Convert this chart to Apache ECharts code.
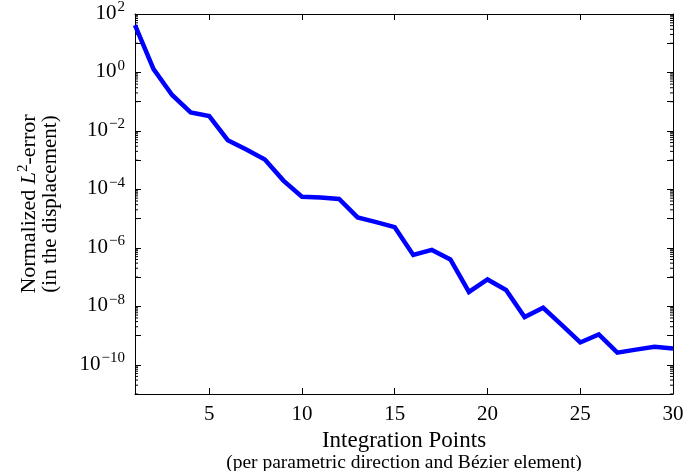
<!DOCTYPE html>
<html><head><meta charset="utf-8">
<script src="https://cdn.jsdelivr.net/npm/echarts@6/dist/echarts.min.js"></script>
<style>html,body{margin:0;padding:0;background:#fff}#c{width:683px;height:471px}</style>
</head><body><div id="c"></div><script>
// ---- data ----
const integrationPoints = [1,2,3,4,5,6,7,8,9,10,11,12,13,14,15,16,17,18,19,20,21,22,23,24,25,26,27,28,29,30];
const l2Errors = [42, 1.3, 0.17, 0.043, 0.032, 0.0048, 0.0023, 0.00105, 0.0002, 5.6e-5,
  5.3e-5, 4.7e-5, 1.1e-5, 7.6e-6, 5.1e-6, 5.7e-7, 8.5e-7, 4.0e-7, 3.1e-8, 8.3e-8,
  3.6e-8, 4.3e-9, 8.9e-9, 2.3e-9, 5.8e-10, 1.1e-9, 2.6e-10, 3.3e-10, 4.1e-10, 3.6e-10];
const xTickValues = [5, 10, 15, 20, 25, 30];
const yLabelExponents = [-10, -8, -6, -4, -2, 0, 2];
const minorDecadeExponents = [-11, -9, -7, -5, -3, -1, 1];
const minorMultipliers = [1, 2, 3, 4, 5, 6, 7, 8, 9];

const X_MIN = 1, X_MAX = 30, Y_MIN = 1e-11, Y_MAX = 100;
const FONT = '"Liberation Serif", "DejaVu Serif", serif';

const minorTickValues = [];
minorDecadeExponents.forEach(e => minorMultipliers.forEach(k => {
  const v = k * Math.pow(10, e);
  if (v >= Y_MIN && v <= Y_MAX) minorTickValues.push(v);
}));

const sup = s => String(s).replace('-', '\u2212');
function yLabel(v) {
  const e = Math.round(Math.log10(v));
  return yLabelExponents.indexOf(e) >= 0 ? '{b|10}{s|' + sup(e) + '}' : '';
}
const yRich = {
  b: {fontSize: 21, fontFamily: FONT, color: '#000', verticalAlign: 'bottom', lineHeight: 20},
  s: {fontSize: 15, fontFamily: FONT, color: '#000', verticalAlign: 'bottom', lineHeight: 15, padding: [0, 0, 9, 1]}
};

const chart = echarts.init(document.getElementById('c'), null, {renderer: 'canvas'});
const baseY = {
  type: 'log', logBase: 10, min: Y_MIN, max: Y_MAX, interval: 1,
  axisLine: {show: true, lineStyle: {color: '#000', width: 1}},
  axisTick: {show: true, inside: true, length: 6, lineStyle: {color: '#000', width: 1}},
  splitLine: {show: false}, minorTick: {show: false}
};
const baseX = {
  type: 'value', min: X_MIN, max: X_MAX,
  axisLine: {show: true, onZero: false, lineStyle: {color: '#000', width: 1}},
  axisTick: {show: true, inside: true, length: 6, customValues: xTickValues, lineStyle: {color: '#000', width: 1}},
  splitLine: {show: false}
};
chart.setOption({
  animation: false,
  backgroundColor: '#fff',
  grid: {left: 135, right: 10, top: 14, bottom: 77, containLabel: false, outerBoundsMode: 'none'},
  xAxis: [
    Object.assign({}, baseX, {
      position: 'bottom',
      axisLabel: {customValues: xTickValues, fontSize: 21, fontFamily: FONT, color: '#000', margin: 10},
      name: '{a|Integration Points}\n{c|(per parametric direction and B\u00e9zier element)}',
      nameLocation: 'middle', nameGap: 29,
      nameTextStyle: {rich: {
        a: {fontSize: 23, fontFamily: FONT, color: '#000', lineHeight: 20, align: 'center'},
        c: {fontSize: 19.5, fontFamily: FONT, color: '#000', lineHeight: 23, align: 'center'}
      }}
    }),
    Object.assign({}, baseX, {position: 'top', axisLabel: {show: false}})
  ],
  yAxis: [
    Object.assign({}, baseY, {
      position: 'left',
      axisLabel: {formatter: yLabel, rich: yRich, margin: 10},
      name: '{a|Normalized }{i|L}{s|2}{a|-error}\n{c|(in the displacement)}',
      nameLocation: 'middle', nameGap: 74, nameRotate: 90,
      nameTextStyle: {rich: {
        a: {fontSize: 22, fontFamily: FONT, color: '#000', lineHeight: 22, verticalAlign: 'bottom'},
        i: {fontSize: 22, fontFamily: FONT, fontStyle: 'italic', color: '#000', lineHeight: 22, verticalAlign: 'bottom'},
        s: {fontSize: 15, fontFamily: FONT, color: '#000', lineHeight: 15, verticalAlign: 'bottom', padding: [0, 0, 9, 0]},
        c: {fontSize: 21, fontFamily: FONT, color: '#000', lineHeight: 21, verticalAlign: 'bottom'}
      }}
    }),
    Object.assign({}, baseY, {position: 'right', axisLabel: {show: false}})
  ],
  series: [
    {
      type: 'custom', silent: true, clip: false, z: 1,
      xAxisIndex: 0, yAxisIndex: 0,
      data: minorTickValues.map(v => [X_MIN, v]),
      renderItem: function (params, api) {
        const v = api.value(1);
        const l = api.coord([X_MIN, v]);
        const r = api.coord([X_MAX, v]);
        return {type: 'group', children: [
          {type: 'line', shape: {x1: l[0], y1: l[1], x2: l[0] + 3, y2: l[1]}, style: {stroke: '#000', lineWidth: 1}},
          {type: 'line', shape: {x1: r[0] - 3, y1: r[1], x2: r[0], y2: r[1]}, style: {stroke: '#000', lineWidth: 1}}
        ]};
      }
    },
    {
      type: 'line', xAxisIndex: 0, yAxisIndex: 0, z: 3,
      data: integrationPoints.map((x, i) => [x, l2Errors[i]]),
      showSymbol: false, symbol: 'none', clip: true,
      lineStyle: {color: '#0000ff', width: 4.5, join: 'miter'},
      itemStyle: {color: '#0000ff'}
    }
  ]
});
</script></body></html>
